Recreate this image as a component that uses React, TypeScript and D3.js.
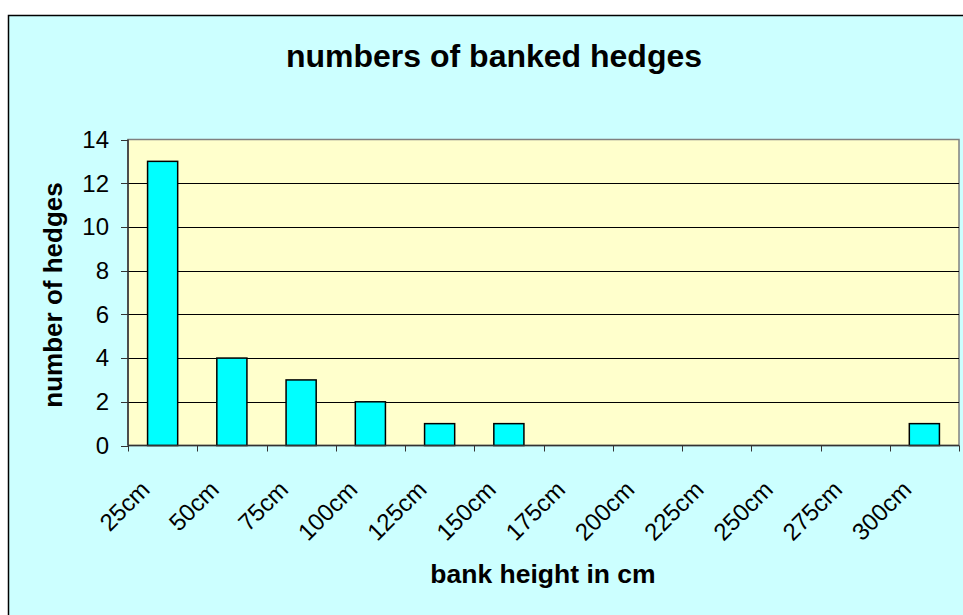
import React from "react";
import * as d3 from "d3";

const categories = ["25cm", "50cm", "75cm", "100cm", "125cm", "150cm", "175cm", "200cm", "225cm", "250cm", "275cm", "300cm"];
const counts = [13, 4, 3, 2, 1, 1, 0, 0, 0, 0, 0, 1];
const yTicks = [0, 2, 4, 6, 8, 10, 12, 14];
const titleText = "numbers of banked hedges";
const xTitle = "bank height in cm";
const yTitle = "number of hedges";

const W = 963;
const H = 615;
const plot = { left: 128, right: 959, top: 139.5, bottom: 445.5 };
const FONT = "'Liberation Sans', Arial, sans-serif";

export default function App() {
  const gap = 1.3 / 2.3;
  const x = d3
    .scaleBand<string>()
    .domain(categories)
    .range([plot.left, plot.right])
    .paddingInner(gap)
    .paddingOuter(gap / 2);
  const step = (plot.right - plot.left) / categories.length;
  const y = d3.scaleLinear().domain([0, 14]).range([plot.bottom, plot.top]);
  const tickXs = d3.range(categories.length + 1).map((i) => plot.left + i * step);

  return (
    <svg width={W} height={H} style={{ position: "absolute", left: 0, top: 0 }}>
      <rect x={0} y={0} width={W} height={H} fill="#ffffff" />
      <rect x={8.5} y={15.5} width={W + 10} height={H + 10} fill="#CCFFFF" stroke="#000" strokeWidth={1.5} />
      <rect
        x={plot.left}
        y={plot.top}
        width={plot.right - plot.left}
        height={plot.bottom - plot.top}
        fill="#FFFFCC"
        stroke="#808080"
        strokeWidth={1.5}
      />
      {yTicks
        .filter((t) => t > 0 && t < 14)
        .map((t) => (
          <line key={"g" + t} x1={plot.left} x2={plot.right} y1={Math.round(y(t)) + 0.5} y2={Math.round(y(t)) + 0.5} stroke="#000" strokeWidth={1} />
        ))}
      {categories.map((c, i) => (
        <rect
          key={c}
          x={x(c)!}
          y={y(counts[i])}
          width={x.bandwidth()}
          height={plot.bottom - y(counts[i])}
          fill="#00FFFF"
          stroke="#000"
          strokeWidth={1.5}
          visibility={counts[i] > 0 ? "visible" : "hidden"}
        />
      ))}
      <line x1={plot.left} x2={plot.left} y1={plot.top} y2={plot.bottom} stroke="#333" strokeWidth={1.5} />
      <line x1={plot.left} x2={plot.right} y1={plot.bottom} y2={plot.bottom} stroke="#333" strokeWidth={1.5} />
      {yTicks.map((t) => (
        <g key={"yt" + t}>
          <line x1={plot.left - 7} x2={plot.left} y1={Math.round(y(t)) + 0.5} y2={Math.round(y(t)) + 0.5} stroke="#333" strokeWidth={1} />
          <text x={109} y={y(t)} dy="0.35em" textAnchor="end" fontFamily={FONT} fontSize={24} fill="#000">
            {t}
          </text>
        </g>
      ))}
      {tickXs.map((tx, i) => (
        <line key={"xt" + i} x1={Math.round(tx) + 0.5} x2={Math.round(tx) + 0.5} y1={plot.bottom} y2={plot.bottom + 6} stroke="#333" strokeWidth={1} />
      ))}
      {categories.map((c) => {
        const cx = x(c)! + x.bandwidth() / 2;
        const ax = cx - 11.5;
        const ay = 491;
        return (
          <text
            key={"xl" + c}
            x={ax}
            y={ay}
            textAnchor="end"
            transform={`rotate(-45 ${ax} ${ay})`}
            fontFamily={FONT}
            fontSize={24}
            fill="#000"
          >
            {c}
          </text>
        );
      })}
      <text x={494} y={67} textAnchor="middle" fontFamily={FONT} fontSize={32} fontWeight="bold" fill="#000">
        {titleText}
      </text>
      <text x={543} y={583} textAnchor="middle" fontFamily={FONT} fontSize={26.5} fontWeight="bold" fill="#000">
        {xTitle}
      </text>
      <text
        x={62}
        y={295}
        textAnchor="middle"
        transform={`rotate(-90 62 295)`}
        fontFamily={FONT}
        fontSize={26}
        fontWeight="bold"
        fill="#000"
      >
        {yTitle}
      </text>
    </svg>
  );
}
